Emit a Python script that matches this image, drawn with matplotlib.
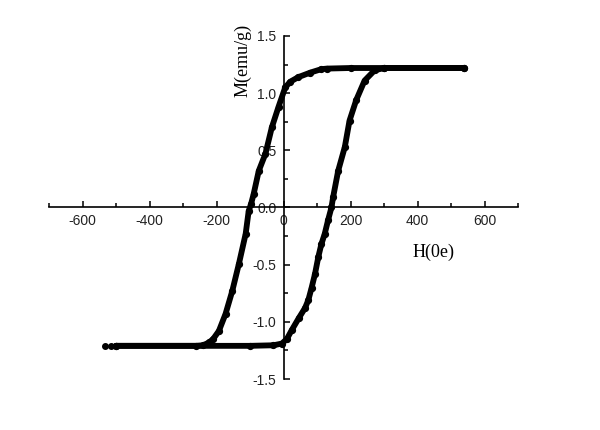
import matplotlib
matplotlib.use('Agg')
import matplotlib.pyplot as plt
from matplotlib.ticker import MultipleLocator, FormatStrFormatter

# Descending branch (field swept from +H to -H)
h_down = [538, 300, 200, 130, 113, 80, 44, 20, 5, -15, -35, -54, -74, -89, -97,
          -104, -113, -133, -153, -173, -193, -210, -222, -240, -260, -500]
m_down = [1.22, 1.22, 1.22, 1.215, 1.21, 1.18, 1.14, 1.10, 1.05, 0.88, 0.70, 0.47, 0.32, 0.12, 0.03,
          -0.03, -0.23, -0.49, -0.73, -0.93, -1.08, -1.15, -1.18, -1.205, -1.21, -1.21]

# Ascending branch (field swept from -H to +H)
h_up = [-500, -100, -30, -5, 10, 25, 45, 64, 74, 84, 94, 104, 113, 123, 133, 143,
        148, 163, 183, 197, 217, 242, 272, 301, 538]
m_up = [-1.21, -1.21, -1.205, -1.19, -1.15, -1.07, -0.97, -0.88, -0.81, -0.70, -0.58, -0.43, -0.32, -0.23, -0.11, 0.0,
        0.09, 0.32, 0.53, 0.76, 0.94, 1.11, 1.20, 1.22, 1.22]

# lone points at the far left end
h_lone = [-533, -516]
m_lone = [-1.21, -1.21]

fig = plt.figure(figsize=(6, 4.3), dpi=100)
ax = fig.add_axes([0.0817, 0.1186, 0.7817, 0.7977])

for h, m in [(h_down, m_down), (h_up, m_up)]:
    ax.plot(h, m, color='black', lw=4.2, marker='o', ms=4.2, solid_capstyle='round',
            solid_joinstyle='round')
ax.plot(h_lone, m_lone, 'o', color='black', ms=4, lw=0)

ax.set_xlim(-700, 700)
ax.set_ylim(-1.5, 1.5)

# axes cross at the origin
ax.spines['left'].set_position(('data', 0))
ax.spines['bottom'].set_position(('data', 0))
ax.spines['top'].set_visible(False)
ax.spines['right'].set_visible(False)
for s in ['left', 'bottom']:
    ax.spines[s].set_linewidth(1.2)

ax.xaxis.set_major_locator(MultipleLocator(200))
ax.xaxis.set_minor_locator(MultipleLocator(100))
ax.yaxis.set_major_locator(MultipleLocator(0.5))
ax.yaxis.set_minor_locator(MultipleLocator(0.25))
ax.yaxis.set_major_formatter(FormatStrFormatter('%.1f'))
ax.xaxis.set_major_formatter(FormatStrFormatter('%d'))

ax.tick_params(which='both', direction='in', width=1.1, colors='black', labelcolor='#222222',
               labelsize=10, pad=5)
ax.tick_params(which='major', length=4.5)
ax.tick_params(which='minor', length=3)
for lab in ax.get_xticklabels() + ax.get_yticklabels():
    lab.set_family('Liberation Sans')

fig.text(0.405, 0.860, 'M(emu/g)', rotation=90, ha='center', va='center',
         family='Liberation Serif', fontsize=13)
fig.text(0.7217, 0.414, 'H(0e)', ha='center', va='center',
         family='Liberation Serif', fontsize=13)

fig.savefig('out.png', dpi=100)
